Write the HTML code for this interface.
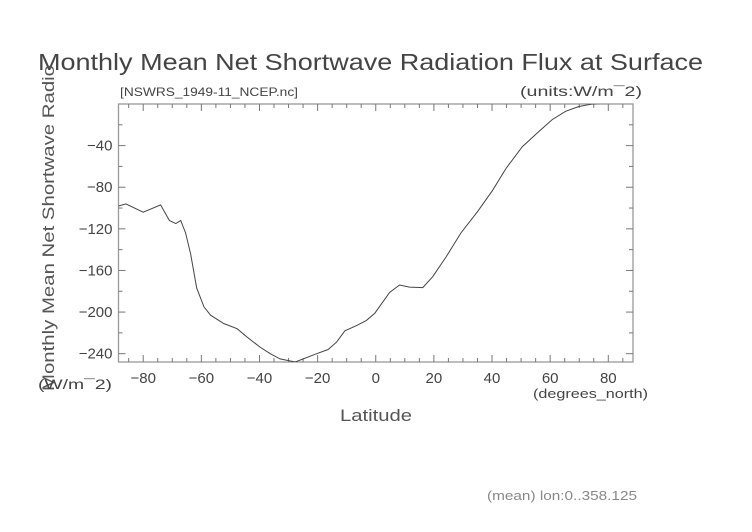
<!DOCTYPE html>
<html><head><meta charset="utf-8"><style>
html,body{margin:0;padding:0;background:#fff;}
svg{display:block;font-family:"Liberation Sans",sans-serif;}
</style></head><body>
<svg id="chart" width="752" height="532" viewBox="0 0 752 532">
<text x="38" y="70" font-size="23" fill="#444" textLength="665" lengthAdjust="spacingAndGlyphs">Monthly Mean Net Shortwave Radiation Flux at Surface</text>
<text x="120" y="96" font-size="12" fill="#444" textLength="178" lengthAdjust="spacingAndGlyphs">[NSWRS_1949-11_NCEP.nc]</text>
<text x="520" y="96" font-size="14" fill="#444" textLength="122" lengthAdjust="spacingAndGlyphs">(units:W/m¯2)</text>
<text transform="translate(54,391) rotate(-90)" font-size="17" fill="#555" textLength="326" lengthAdjust="spacingAndGlyphs">Monthly Mean Net Shortwave Radio</text>
<text x="38" y="389" font-size="14" fill="#444" textLength="74" lengthAdjust="spacingAndGlyphs">(W/m¯2)</text>
<text x="340" y="421" font-size="17" fill="#555" textLength="72" lengthAdjust="spacingAndGlyphs">Latitude</text>
<text x="533" y="398" font-size="13" fill="#444" textLength="115" lengthAdjust="spacingAndGlyphs">(degrees_north)</text>
<text x="487" y="500" font-size="13" fill="#888" textLength="150" lengthAdjust="spacingAndGlyphs">(mean) lon:0..358.125</text>
<g id="axes"></g>
<g id="series"></g>
</svg>
<script>
const lats = [-88.5,-86,-80,-74,-71,-68.8,-67.1,-65.4,-63.7,-61.6,-59.1,-56.8,-52.3,-47.7,-44.3,-39.7,-36.3,-32.9,-27.7,-20.3,-16.4,-13.5,-10.6,-6.6,-3.2,-0.3,4.8,8.2,11.6,16.2,19.6,24.2,29.3,35,40.2,44.8,50.4,55.5,60.7,65.3,69.9,74.4,80,88.5];
const flux = [-98,-96,-104,-97,-112,-115,-112,-124,-144,-177,-195,-203,-211,-216,-224,-234,-240,-245,-248,-240,-236,-229,-218,-213,-208,-201,-181,-174,-176,-176.5,-166,-147,-124,-103.5,-83,-62,-41,-28,-15,-7,-2.4,0,1,1];
const xTicks = [-80,-60,-40,-20,0,20,40,60,80];
const yTicks = [-40,-80,-120,-160,-200,-240];
const X0=118.5,X1=633,Y0=104,Y1=362;
const xmin=-88.5,xmax=88.5,ymax=0,ymin=-248;
const sx=v=>X0+(v-xmin)/(xmax-xmin)*(X1-X0);
const sy=v=>Y0+(ymax-v)/(ymax-ymin)*(Y1-Y0);
const NS="http://www.w3.org/2000/svg";
const axes=document.getElementById('axes');
function mk(tag,attrs,parent){const e=document.createElementNS(NS,tag);for(const k in attrs)e.setAttribute(k,attrs[k]);parent.appendChild(e);return e;}
const frame=mk('rect',{x:X0,y:Y0,width:X1-X0,height:Y1-Y0,fill:'none',stroke:'#999','stroke-width':1.3},axes);


for(let v=-85;v<=85;v+=5){const x=sx(v);const major=v%20===0;const L=major?7:4;
 const t1=mk('line',{x1:x,x2:x,y1:Y1,y2:Y1-L,stroke:'#777'},axes);
 
 
 const t2=mk('line',{x1:x,x2:x,y1:Y0,y2:Y0+L,stroke:'#777'},axes);
 
 }
xTicks.forEach(v=>{const t=mk('text',{x:sx(v),y:383,'font-size':15,fill:'#444','text-anchor':'middle'},axes);t.textContent=(v<0?'\u2212':'')+Math.abs(v);
 
 });
for(let v=-20;v>=-240;v-=20){const y=sy(v);const major=v%40===0;const L=major?7:4;
 const t1=mk('line',{x1:X0,x2:X0+L,y1:y,y2:y,stroke:'#777'},axes);
 
 
 const t2=mk('line',{x1:X1,x2:X1-L,y1:y,y2:y,stroke:'#777'},axes);
 
 }
yTicks.forEach(v=>{const t=mk('text',{x:X0-6,y:sy(v)+5,'font-size':15,fill:'#444','text-anchor':'end'},axes);t.textContent='\u2212'+Math.abs(v);
 
 });
const cp=mk('clipPath',{id:'clip'},document.getElementById('chart'));
mk('rect',{x:X0,y:Y0,width:X1-X0,height:Y1-Y0},cp);
const d=lats.map((v,i)=>(i?'L':'M')+sx(v).toFixed(1)+','+sy(flux[i]).toFixed(1)).join('');
const line=mk('path',{d:d,fill:'none',stroke:'#444','stroke-width':1,'clip-path':'url(#clip)'},document.getElementById('series'));


</script>
</body></html>
